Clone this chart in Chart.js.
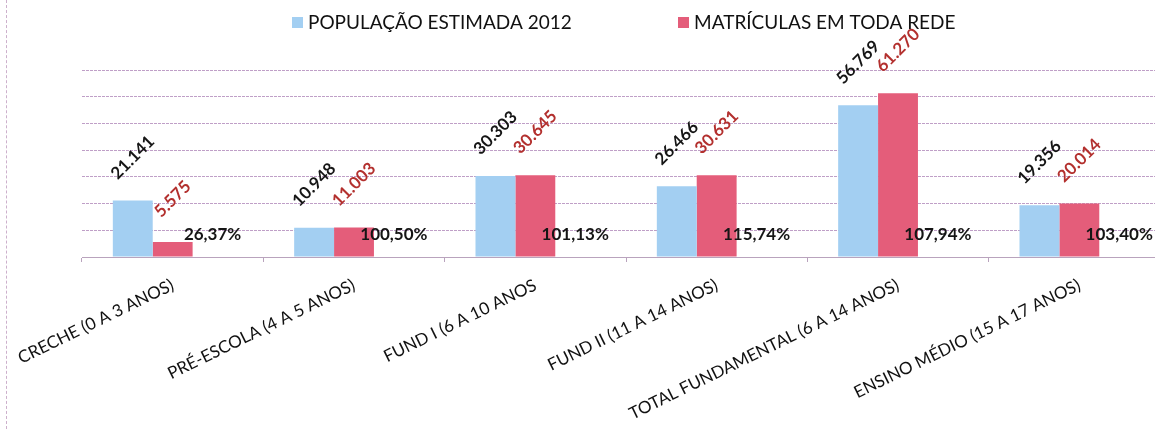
<!DOCTYPE html>
<html>
<head>
<meta charset="utf-8">
<script src="https://cdn.jsdelivr.net/npm/chart.js@4/dist/chart.umd.min.js"></script>
<style>
  html, body { margin: 0; padding: 0; background: #fff; overflow: hidden; }
  #wrap { position: relative; width: 1170px; height: 429px; }
  #edge { position: absolute; left: 6px; top: 0; bottom: 0; border-left: 1px dashed #cdb0cc; }
</style>
</head>
<body>
<div id="wrap">
  <div id="edge"></div>
  <canvas id="myChart" width="1170" height="429"></canvas>
</div>
<script>
// categories and values
const categories = [
    'CRECHE (0 A 3 ANOS)',
    'PRÉ-ESCOLA (4 A 5 ANOS)',
    'FUND I (6 A 10 ANOS',
    'FUND II (11 A 14 ANOS)',
    'TOTAL FUNDAMENTAL (6 A 14 ANOS)',
    'ENSINO MÉDIO (15 A 17 ANOS)'
];
const populacao = [21141, 10948, 30303, 26466, 56769, 19356];
const matriculas = [5575, 11003, 30645, 30631, 61270, 20014];
const percentuais = [26.37, 100.50, 101.13, 115.74, 107.94, 103.40];

const seriesNames = ['POPULAÇÃO ESTIMADA 2012', 'MATRÍCULAS EM TODA REDE'];
const yTicks = [0, 10000, 20000, 30000, 40000, 50000, 60000, 70000];

const FONT = 'Lato, "Open Sans", sans-serif';

function fmtThousands(v) {
    return String(v).replace(/\B(?=(\d{3})+(?!\d))/g, '.');
}

function fmtPercent(v) {
    return v.toFixed(2).replace('.', ',') + '%';
}

// draws the rotated value labels and the percentage row
const labelPlugin = {
    id: 'valueLabels',
    afterDatasetsDraw(chart) {
        const c = chart.ctx;
        const yZero = chart.scales.y.getPixelForValue(0);
        const colors = ['#151515', '#b3302e'];
        const k = Math.SQRT1_2;
        [0, 1].forEach(di => {
            const meta = chart.getDatasetMeta(di);
            meta.data.forEach((bar, i) => {
                c.save();
                c.setTransform(k, -k, k, k, bar.x, bar.y - 43);
                c.font = 'bold 17px ' + FONT;
                c.textAlign = 'center';
                c.textBaseline = 'middle';
                c.fillStyle = colors[di];
                c.fillText(fmtThousands(chart.data.datasets[di].data[i]), 0, 0);
                c.restore();
            });
        });
        c.save();
        c.font = 'bold 17px ' + FONT;
        c.textAlign = 'center';
        c.textBaseline = 'middle';
        c.fillStyle = '#151515';
        chart.getDatasetMeta(2).data.forEach((bar, i) => {
            c.fillText(fmtPercent(chart.data.datasets[2].data[i]), bar.x, yZero - 22);
        });
        c.restore();
    }
};

// legend with a wide gap between the two entries
const legendPlugin = {
    id: 'wideLegend',
    afterDraw(chart) {
        const c = chart.ctx;
        const xs = [292, 678];
        c.save();
        c.font = '19px ' + FONT;
        c.textBaseline = 'middle';
        c.textAlign = 'left';
        [0, 1].forEach(di => {
            const ds = chart.data.datasets[di];
            c.fillStyle = ds.backgroundColor;
            c.fillRect(xs[di], 17, 11, 11);
            c.fillStyle = '#111';
            c.fillText(ds.label, xs[di] + 16, 23);
        });
        c.restore();
    }
};

const ctx = document.getElementById('myChart').getContext('2d');
const myChart = new Chart(ctx, {
    type: 'bar',
    data: {
        labels: categories,
        datasets: [{
            label: seriesNames[0],
            data: populacao,
            backgroundColor: '#a3cff2'
        }, {
            label: seriesNames[1],
            data: matriculas,
            backgroundColor: '#e45d7a'
        }, {
            label: 'percentual',
            data: percentuais,
            backgroundColor: 'rgba(0,0,0,0)'
        }]
    },
    options: {
        responsive: false,
        animation: false,
        devicePixelRatio: 1,
        layout: {
            padding: { left: 82, top: 70, right: 0, bottom: 0 }
        },
        datasets: {
            bar: {
                categoryPercentage: 0.66,
                barPercentage: 1.0
            }
        },
        plugins: {
            legend: { display: false },
            tooltip: { enabled: false }
        },
        scales: {
            x: {
                grid: {
                    drawOnChartArea: false,
                    tickLength: 5,
                    color: '#b9a3bd'
                },
                border: { color: '#b9a3bd' },
                ticks: {
                    autoSkip: false,
                    minRotation: 26,
                    maxRotation: 26,
                    padding: 13,
                    color: '#111',
                    font: { family: FONT, size: 17 }
                },
                afterFit: scale => {
                    scale.height = 172;
                    scale.paddingLeft = 0;
                    scale.paddingRight = 0;
                }
            },
            y: {
                min: 0,
                max: 70000,
                afterBuildTicks: scale => {
                    scale.ticks = yTicks.map(v => ({ value: v }));
                },
                ticks: { display: false },
                border: { display: false, dash: [3, 1] },
                grid: {
                    drawTicks: false,
                    color: 'rgba(175,135,185,0.8)'
                }
            }
        }
    },
    plugins: [labelPlugin, legendPlugin]
});
</script>
</body>
</html>
